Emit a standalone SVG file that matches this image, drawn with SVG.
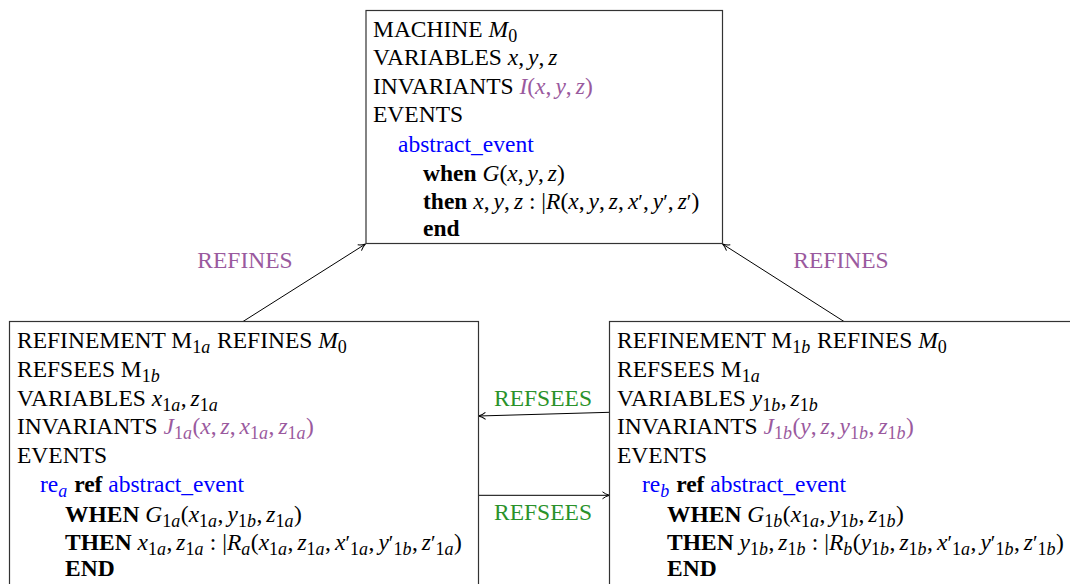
<svg xmlns="http://www.w3.org/2000/svg" width="1070" height="584" viewBox="0 0 1070 584">
<defs>
<style>
text{font-family:"Liberation Serif","Times New Roman",serif;font-size:23.5px;fill:#000}
.i{font-style:italic}
.b{font-weight:bold}
.s{font-size:18px}
.pr{font-size:21px}
.p{fill:#9a5a9e}
.bl{fill:#0000ff}
.g{fill:#2a922a}
.box{fill:#fff;stroke:#333;stroke-width:1.2}
.c{stroke:#000;stroke-width:1;fill:none;marker-end:url(#ar)}
</style>
<marker id="ar" viewBox="0 0 10 10" refX="9" refY="5" markerWidth="10" markerHeight="10" markerUnits="userSpaceOnUse" orient="auto">
<path d="M2,1.5 Q5,4 9,5 Q5,6 2,8.5" fill="none" stroke="#000" stroke-width="1"/>
</marker>
</defs>
<rect width="1070" height="584" fill="#fff"/>

<g id="connectors">
<line class="c" x1="243" y1="321.5" x2="365.5" y2="244"/>
<line class="c" x1="844" y1="321.5" x2="722.5" y2="244"/>
<line class="c" x1="609.5" y1="412.3" x2="478.5" y2="416"/>
<line class="c" x1="478.5" y1="495.3" x2="609.5" y2="495.3"/>
<text class="p" x="245" y="268" text-anchor="middle">REFINES</text>
<text class="p" x="841" y="268" text-anchor="middle">REFINES</text>
<text class="g" x="543" y="405.5" text-anchor="middle">REFSEES</text>
<text class="g" x="543" y="519.5" text-anchor="middle">REFSEES</text>
</g>

<g id="M0">
<rect class="box" x="366" y="10.5" width="356.5" height="233"/>
<text x="373" y="36.5">MACHINE <tspan class="i">M</tspan><tspan class="s" dy="5">0</tspan></text>
<text x="373" y="65">VARIABLES <tspan class="i">x</tspan>,<tspan class="i" dx="4">y</tspan>,<tspan class="i" dx="4">z</tspan></text>
<text x="373" y="93.5">INVARIANTS <tspan class="p"><tspan class="i">I</tspan>(<tspan class="i">x</tspan>,<tspan class="i" dx="4">y</tspan>,<tspan class="i" dx="4">z</tspan>)</tspan></text>
<text x="373" y="122">EVENTS</text>
<text class="bl" x="398" y="151.5">abstract_event</text>
<text x="423" y="180.5"><tspan class="b">when</tspan> <tspan class="i">G</tspan>(<tspan class="i">x</tspan>,<tspan class="i" dx="4">y</tspan>,<tspan class="i" dx="4">z</tspan>)</text>
<text x="423" y="208.5"><tspan class="b">then</tspan> <tspan class="i">x</tspan>,<tspan class="i" dx="4">y</tspan>,<tspan class="i" dx="4">z</tspan> : |<tspan class="i">R</tspan>(<tspan class="i">x</tspan>,<tspan class="i" dx="4">y</tspan>,<tspan class="i" dx="4">z</tspan>,<tspan class="i" dx="4">x</tspan><tspan class="pr">′</tspan>,<tspan class="i" dx="4">y</tspan><tspan class="pr">′</tspan>,<tspan class="i" dx="4">z</tspan><tspan class="pr">′</tspan>)</text>
<text x="423" y="236" class="b">end</text>
</g>

<g id="M1a">
<rect class="box" x="9.5" y="321.5" width="469" height="280"/>
<text x="17" y="348">REFINEMENT M<tspan class="s" dy="5">1<tspan class="i">a</tspan></tspan><tspan dy="-5" dx="1"> REFINES </tspan><tspan class="i">M</tspan><tspan class="s" dy="5">0</tspan></text>
<text x="17" y="377">REFSEES M<tspan class="s" dy="5">1<tspan class="i">b</tspan></tspan></text>
<text x="17" y="405.5">VARIABLES <tspan class="i">x</tspan><tspan class="s" dy="5">1<tspan class="i">a</tspan></tspan><tspan dy="-5" dx="0.5">,</tspan><tspan class="i" dx="4">z</tspan><tspan class="s" dy="5">1<tspan class="i">a</tspan></tspan></text>
<text x="17" y="434">INVARIANTS <tspan class="p"><tspan class="i">J</tspan><tspan class="s" dy="5">1<tspan class="i">a</tspan></tspan><tspan dy="-5" dx="0.5">(</tspan><tspan class="i">x</tspan>,<tspan class="i" dx="4">z</tspan>,<tspan class="i" dx="4">x</tspan><tspan class="s" dy="5">1<tspan class="i">a</tspan></tspan><tspan dy="-5" dx="0.5">,</tspan><tspan class="i" dx="4">z</tspan><tspan class="s" dy="5">1<tspan class="i">a</tspan></tspan><tspan dy="-5" dx="0.5">)</tspan></tspan></text>
<text x="17" y="462.5">EVENTS</text>
<text x="40" y="491.5"><tspan class="bl">re</tspan><tspan class="bl s i" dy="5">a</tspan><tspan dy="-5" dx="1"> </tspan><tspan class="b">ref</tspan> <tspan class="bl">abstract_event</tspan></text>
<text x="65" y="521.5"><tspan class="b">WHEN</tspan> <tspan class="i">G</tspan><tspan class="s" dy="5">1<tspan class="i">a</tspan></tspan><tspan dy="-5" dx="0.5">(</tspan><tspan class="i">x</tspan><tspan class="s" dy="5">1<tspan class="i">a</tspan></tspan><tspan dy="-5" dx="0.5">,</tspan><tspan class="i" dx="4">y</tspan><tspan class="s" dy="5">1<tspan class="i">b</tspan></tspan><tspan dy="-5" dx="0.5">,</tspan><tspan class="i" dx="4">z</tspan><tspan class="s" dy="5">1<tspan class="i">a</tspan></tspan><tspan dy="-5" dx="0.5">)</tspan></text>
<text x="65" y="550"><tspan class="b">THEN</tspan> <tspan class="i">x</tspan><tspan class="s" dy="5">1<tspan class="i">a</tspan></tspan><tspan dy="-5" dx="0.5">,</tspan><tspan class="i" dx="4">z</tspan><tspan class="s" dy="5">1<tspan class="i">a</tspan></tspan><tspan dy="-5" dx="0.5"> : |</tspan><tspan class="i">R</tspan><tspan class="s i" dy="5">a</tspan><tspan dy="-5" dx="0.5">(</tspan><tspan class="i">x</tspan><tspan class="s" dy="5">1<tspan class="i">a</tspan></tspan><tspan dy="-5" dx="0.5">,</tspan><tspan class="i" dx="4">z</tspan><tspan class="s" dy="5">1<tspan class="i">a</tspan></tspan><tspan dy="-5" dx="0.5">,</tspan><tspan class="i" dx="4">x</tspan><tspan class="pr">′</tspan><tspan class="s" dy="5">1<tspan class="i">a</tspan></tspan><tspan dy="-5" dx="0.5">,</tspan><tspan class="i" dx="4">y</tspan><tspan class="pr">′</tspan><tspan class="s" dy="5">1<tspan class="i">b</tspan></tspan><tspan dy="-5" dx="0.5">,</tspan><tspan class="i" dx="4">z</tspan><tspan class="pr">′</tspan><tspan class="s" dy="5">1<tspan class="i">a</tspan></tspan><tspan dy="-5" dx="0.5">)</tspan></text>
<text x="65" y="576" class="b">END</text>
</g>

<g id="M1b">
<rect class="box" x="609.5" y="321.5" width="480" height="280"/>
<text x="617" y="348">REFINEMENT M<tspan class="s" dy="5">1<tspan class="i">b</tspan></tspan><tspan dy="-5" dx="1"> REFINES </tspan><tspan class="i">M</tspan><tspan class="s" dy="5">0</tspan></text>
<text x="617" y="377">REFSEES M<tspan class="s" dy="5">1<tspan class="i">a</tspan></tspan></text>
<text x="617" y="405.5">VARIABLES <tspan class="i">y</tspan><tspan class="s" dy="5">1<tspan class="i">b</tspan></tspan><tspan dy="-5" dx="0.5">,</tspan><tspan class="i" dx="4">z</tspan><tspan class="s" dy="5">1<tspan class="i">b</tspan></tspan></text>
<text x="617" y="434">INVARIANTS <tspan class="p"><tspan class="i">J</tspan><tspan class="s" dy="5">1<tspan class="i">b</tspan></tspan><tspan dy="-5" dx="0.5">(</tspan><tspan class="i">y</tspan>,<tspan class="i" dx="4">z</tspan>,<tspan class="i" dx="4">y</tspan><tspan class="s" dy="5">1<tspan class="i">b</tspan></tspan><tspan dy="-5" dx="0.5">,</tspan><tspan class="i" dx="4">z</tspan><tspan class="s" dy="5">1<tspan class="i">b</tspan></tspan><tspan dy="-5" dx="0.5">)</tspan></tspan></text>
<text x="617" y="462.5">EVENTS</text>
<text x="642" y="491.5"><tspan class="bl">re</tspan><tspan class="bl s i" dy="5">b</tspan><tspan dy="-5" dx="1"> </tspan><tspan class="b">ref</tspan> <tspan class="bl">abstract_event</tspan></text>
<text x="667" y="521.5"><tspan class="b">WHEN</tspan> <tspan class="i">G</tspan><tspan class="s" dy="5">1<tspan class="i">b</tspan></tspan><tspan dy="-5" dx="0.5">(</tspan><tspan class="i">x</tspan><tspan class="s" dy="5">1<tspan class="i">a</tspan></tspan><tspan dy="-5" dx="0.5">,</tspan><tspan class="i" dx="4">y</tspan><tspan class="s" dy="5">1<tspan class="i">b</tspan></tspan><tspan dy="-5" dx="0.5">,</tspan><tspan class="i" dx="4">z</tspan><tspan class="s" dy="5">1<tspan class="i">b</tspan></tspan><tspan dy="-5" dx="0.5">)</tspan></text>
<text x="667" y="550"><tspan class="b">THEN</tspan> <tspan class="i">y</tspan><tspan class="s" dy="5">1<tspan class="i">b</tspan></tspan><tspan dy="-5" dx="0.5">,</tspan><tspan class="i" dx="4">z</tspan><tspan class="s" dy="5">1<tspan class="i">b</tspan></tspan><tspan dy="-5" dx="0.5"> : |</tspan><tspan class="i">R</tspan><tspan class="s i" dy="5">b</tspan><tspan dy="-5" dx="0.5">(</tspan><tspan class="i">y</tspan><tspan class="s" dy="5">1<tspan class="i">b</tspan></tspan><tspan dy="-5" dx="0.5">,</tspan><tspan class="i" dx="4">z</tspan><tspan class="s" dy="5">1<tspan class="i">b</tspan></tspan><tspan dy="-5" dx="0.5">,</tspan><tspan class="i" dx="4">x</tspan><tspan class="pr">′</tspan><tspan class="s" dy="5">1<tspan class="i">a</tspan></tspan><tspan dy="-5" dx="0.5">,</tspan><tspan class="i" dx="4">y</tspan><tspan class="pr">′</tspan><tspan class="s" dy="5">1<tspan class="i">b</tspan></tspan><tspan dy="-5" dx="0.5">,</tspan><tspan class="i" dx="4">z</tspan><tspan class="pr">′</tspan><tspan class="s" dy="5">1<tspan class="i">b</tspan></tspan><tspan dy="-5" dx="0.5">)</tspan></text>
<text x="667" y="576" class="b">END</text>
</g>
</svg>
